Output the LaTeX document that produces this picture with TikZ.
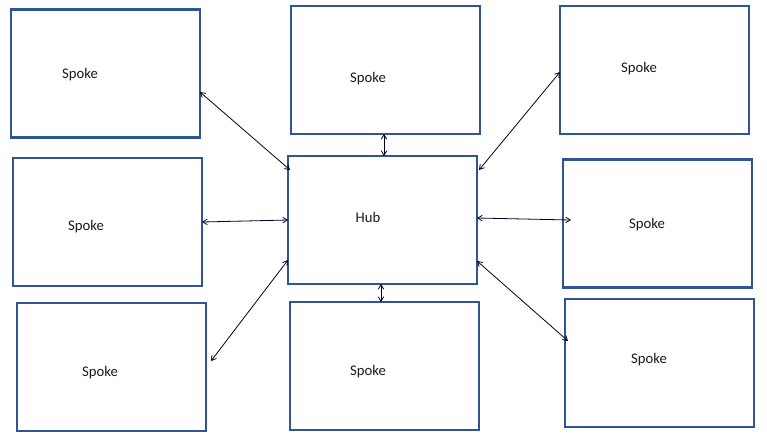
\documentclass[tikz,border=0pt]{standalone}
\usepackage{fontspec}
\setmainfont{Carlito}
\usetikzlibrary{arrows.meta}
\definecolor{boxblue}{HTML}{2F5597}
\definecolor{txt}{HTML}{1A1A1A}
\tikzset{
  box/.style={draw=boxblue, line width=2.2pt, rectangle, minimum width=189pt, minimum height=128pt, inner sep=0pt, outer sep=0pt},
  lbl/.style={text=txt, font=\fontsize{14.7}{17}\selectfont, inner sep=0pt},
  conn/.style={line width=0.8pt, draw=black!85!blue, {Straight Barb[length=4.5pt,width=5.5pt]}-{Straight Barb[length=4.5pt,width=5.5pt]}}
}
\begin{document}
\begin{tikzpicture}[x=1pt,y=-1pt]
\useasboundingbox[fill=white] (0,0) rectangle (767,437);
% boxes
\node[box] (tl) at (105.5,73.5) {};
\node[box] (tm) at (385.5,70) {};
\node[box] (tr) at (654.5,70) {};
\node[box] (ml) at (107.5,222) {};
\node[box] (hub) at (382.5,220) {};
\node[box] (mr) at (657.5,223.5) {};
\node[box] (bl) at (111.5,367) {};
\node[box] (bm) at (384.5,366) {};
\node[box] (br) at (659.5,363) {};
% labels
\node[lbl] (tlt) at (80,75) {Spoke};
\node[lbl] (tmt) at (368,78.5) {Spoke};
\node[lbl] (trt) at (639,69) {Spoke};
\node[lbl] (mlt) at (86,227) {Spoke};
\node[lbl] (hubt) at (368,217.5) {Hub};
\node[lbl] (mrt) at (647,225) {Spoke};
\node[lbl] (blt) at (100,373) {Spoke};
\node[lbl] (bmt) at (368,372) {Spoke};
\node[lbl] (brt) at (649,360) {Spoke};
% connectors
\draw[conn] ([yshift=-18.5pt]tl.east) -- ([xshift=2pt,yshift=50pt]hub.west);
\draw[conn] ([xshift=1.5pt]hub.north |- tm.south) -- ([xshift=1.5pt]hub.north);
\draw[conn] ([yshift=-2pt]tr.west) -- ([xshift=2pt,yshift=50pt]hub.east);
\draw[conn] (ml.east) -- (hub.west);
\draw[conn] ([yshift=2pt]hub.east) -- ([xshift=8pt,yshift=3.5pt]mr.west);
\draw[conn] ([xshift=5pt,yshift=6pt]bl.east) -- ([yshift=-40pt]hub.west);
\draw[conn] ([xshift=-1.5pt]hub.south) -- ([xshift=-1.5pt]hub.south |- bm.north);
\draw[conn] ([yshift=-41pt]hub.east) -- ([xshift=3pt,yshift=22pt]br.west);
\end{tikzpicture}
\end{document}
